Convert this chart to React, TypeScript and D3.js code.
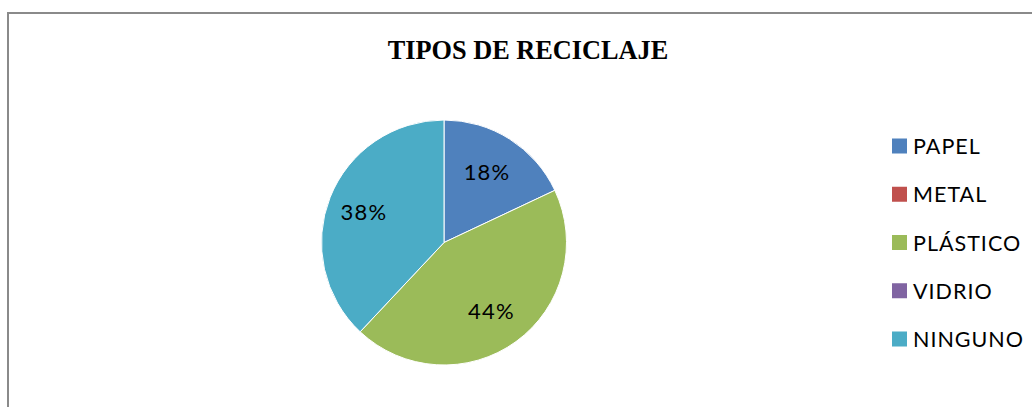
import React from "react";
import * as d3 from "d3";

const title = "TIPOS DE RECICLAJE";
const categories = ["PAPEL", "METAL", "PLÁSTICO", "VIDRIO", "NINGUNO"];
const values = [18, 0, 44, 0, 38];
const colors = ["#4F81BD", "#C0504D", "#9BBB59", "#8064A2", "#4BACC6"];

const W = 1032;
const H = 407;

export default function App() {
  const cx = 444;
  const cy = 242.5;
  const r = 122.5;
  const data = categories.map((c, i) => ({ cat: c, value: values[i], color: colors[i] }));
  const pie = d3.pie<any>().value((d) => d.value).sort(null);
  const arcs = pie(data);
  const arc = d3.arc<any>().innerRadius(0).outerRadius(r);
  const labelArc = d3.arc<any>().innerRadius(84).outerRadius(84);
  const total = d3.sum(values);
  const legendY = d3.scalePoint<string>().domain(categories).range([146, 339]);

  return (
    <div style={{ position: "absolute", left: 0, top: 0, width: W, height: H, overflow: "hidden", background: "#fff" }}>
      <svg width={W} height={H} style={{ display: "block" }}>
        <rect x={8} y={13} width={1200} height={600} fill="#fff" stroke="#8a8a8a" strokeWidth={2} />
        <text
          x={528}
          y={59}
          textAnchor="middle"
          fontFamily="'Liberation Serif', 'Times New Roman', serif"
          fontWeight="bold"
          fontSize={26.3}
          fill="#000"
        >
          {title}
        </text>
        <g transform={`translate(${cx},${cy})`}>
          {arcs.map((a, i) =>
            a.data.value > 0 ? (
              <path key={i} d={arc(a) as string} fill={a.data.color} stroke="#fff" strokeWidth={1} />
            ) : null
          )}
          {arcs.map((a, i) => {
            if (a.data.value <= 0) return null;
            const [x, y] = labelArc.centroid(a);
            return (
              <text
                key={"l" + i}
                x={x - 2}
                y={y}
                textAnchor="middle"
                dominantBaseline="central"
                fontFamily="Lato, 'Open Sans', sans-serif"
                fontSize={22}
                letterSpacing={1.2}
                fill="#000"
              >
                {Math.round((a.data.value / total) * 100)}%
              </text>
            );
          })}
        </g>
        {data.map((d, i) => {
          const y = legendY(d.cat) as number;
          return (
            <g key={"lg" + i}>
              <rect x={892} y={y - 7.5} width={15} height={15} fill={d.color} />
              <text
                x={913}
                y={y}
                dominantBaseline="central"
                fontFamily="Lato, 'Open Sans', sans-serif"
                fontSize={21.5}
                letterSpacing={1}
                fill="#000"
              >
                {d.cat}
              </text>
            </g>
          );
        })}
      </svg>
    </div>
  );
}
